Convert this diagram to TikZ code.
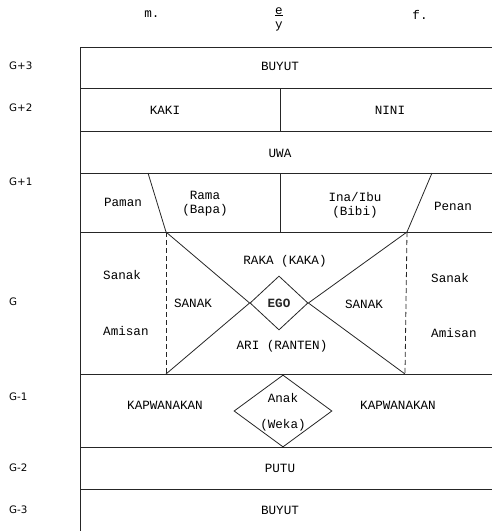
\documentclass[tikz,border=0pt]{standalone}
\usepackage{fontspec}
\setmainfont{Liberation Mono}
\newfontfamily\genfont{DejaVu Sans}
\usetikzlibrary{shapes.geometric}

\begin{document}
\begin{tikzpicture}[x=1pt,y=-1pt]
\tikzset{rule/.style={line width=0.8pt,color=black!85},
         sidedash/.style={rule,dash pattern=on 5pt off 3pt},
         kin/.style={font=\fontsize{12.6}{14}\selectfont,align=center,inner sep=1pt},
         gen/.style={font=\genfont\fontsize{10.3}{12}\selectfont,anchor=west,inner sep=0pt}}
\useasboundingbox (0,0) rectangle (492,531);
\def\xl{80}\def\xr{492}\def\xm{280}
% Header
\node[kin] (male) at (152,14) {m.};
\node[kin] (ey) at (279,19) {\underline{e}\\[0pt]y};
\node[kin] (female) at (420,15) {f.};
% Generation labels
\foreach \g/\y [count=\i] in {G+3/66,G+2/108,G+1/182,G/302,G-1/397,G-2/468,G-3/510}
  \node[gen] (gen\i) at (9,\y) {\g};
% Table rows
\draw[rule] (\xl,47) -- (\xl,531);
\foreach \y in {47,88,131,173,232,374,447,489}
  \draw[rule] (\xl,\y) -- (\xr,\y);
\draw[rule] (\xm,88) -- (\xm,131);
\draw[rule] (\xm,173) -- (\xm,232);
% Corners of the sibling block
\coordinate (ptl) at (148,173); \coordinate (ptr) at (432,173);
\coordinate (gtl) at (166,232); \coordinate (gtr) at (407,232);
\coordinate (gbl) at (166,374); \coordinate (gbr) at (405,374);
\draw[rule] (ptl) -- (gtl);
\draw[rule] (ptr) -- (gtr);
\draw[sidedash] (gtl) -- (gbl);
\draw[sidedash] (gtr) -- (gbr);
% Ego diamond
\node[kin,draw,rule,diamond,minimum width=58pt,minimum height=54pt,inner sep=0pt,
      font=\fontsize{12.6}{14}\selectfont\bfseries] (ego) at (279,303) {EGO};
\draw[rule] (gtl) -- (ego.west) -- (gbl);
\draw[rule] (gtr) -- (ego.east) -- (gbr);
% Child diamond
\node[draw,rule,diamond,minimum width=98pt,minimum height=72pt,inner sep=0pt] (anak) at (283,411) {};
% Kin terms
\node[kin] (buyut1) at (\xm,66) {BUYUT};
\node[kin] (kaki) at (165,110) {KAKI};
\node[kin] (nini) at (390,110) {NINI};
\node[kin] (uwa) at (\xm,153) {UWA};
\node[kin] (paman) at (123,202) {Paman};
\node[kin] (rama) at (205,204) {Rama\\(Bapa)};
\node[kin] (ina) at (355,205) {Ina/Ibu\\(Bibi)};
\node[kin] (penan) at (453,206) {Penan};
\node[kin,anchor=west] (sanakl) at (102,275) {Sanak};
\node[kin,anchor=west] (amisanl) at (102,331) {Amisan};
\node[kin,anchor=west] (sanakr) at (430,278) {Sanak};
\node[kin,anchor=west] (amisanr) at (430,333) {Amisan};
\node[kin] (raka) at (285,261) {RAKA (KAKA)};
\node[kin] (sanaki) at (193,303) {SANAK};
\node[kin] (sanakii) at (364,304) {SANAK};
\node[kin] (ari) at (282,346) {ARI (RANTEN)};
\node[kin] (kapl) at (165,405) {KAPWANAKAN};
\node[kin] (kapr) at (398,405) {KAPWANAKAN};
\node[kin] (anakt) at (283,398) {Anak};
\node[kin] (weka) at (283,425) {(Weka)};
\node[kin] (putu) at (\xm,468) {PUTU};
\node[kin] (buyut2) at (\xm,510) {BUYUT};
\end{tikzpicture}
\end{document}
